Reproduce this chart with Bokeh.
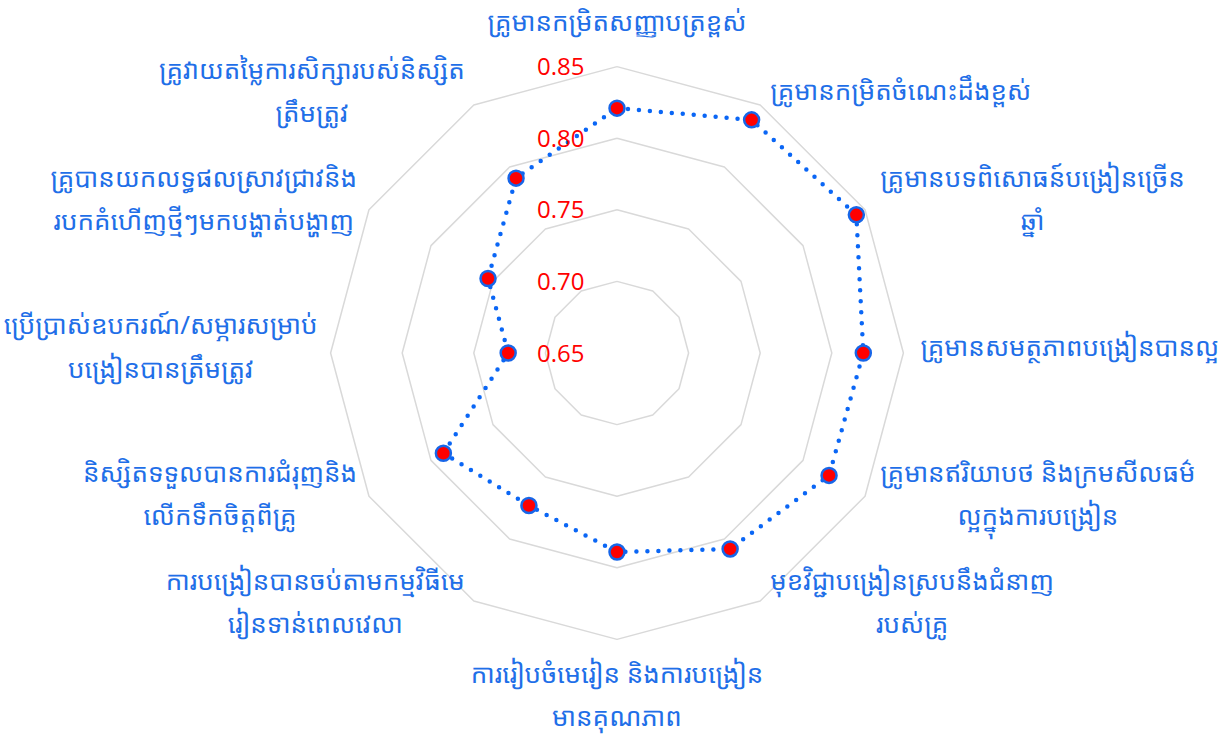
import numpy as np
from bokeh.plotting import figure
from bokeh.core.properties import value
from bokeh.embed import file_html
from bokeh.resources import INLINE

# ---- data ----
categories = [
    "គ្រូមានកម្រិតសញ្ញាបត្រខ្ពស់",
    "គ្រូមានកម្រិតចំណេះដឹងខ្ពស់",
    "គ្រូមានបទពិសោធន៍បង្រៀនច្រើន\nឆ្នាំ",
    "គ្រូមានសមត្ថភាពបង្រៀនបានល្អ",
    "គ្រូមានឥរិយាបថ និងក្រមសីលធម៌\nល្អក្នុងការបង្រៀន",
    "មុខវិជ្ជាបង្រៀនស្របនឹងជំនាញ\nរបស់គ្រូ",
    "ការរៀបចំមេរៀន និងការបង្រៀន\nមានគុណភាព",
    "ការបង្រៀនបានចប់តាមកម្មវិធីមេ\nរៀនទាន់ពេលវេលា",
    "និស្សិតទទួលបានការជំរុញនិង\nលើកទឹកចិត្តពីគ្រូ",
    "ប្រើប្រាស់ឧបករណ៍/សម្ភារសម្រាប់\nបង្រៀនបានត្រឹមត្រូវ",
    "គ្រូបានយកលទ្ធផលស្រាវជ្រាវនិង\nរបកគំហើញថ្មីៗមកបង្ហាត់បង្ហាញ",
    "គ្រូវាយតម្លៃការសិក្សារបស់និស្សិត\nត្រឹមត្រូវ",
]
scores = [0.821, 0.838, 0.843, 0.822, 0.821, 0.808, 0.789, 0.773, 0.790, 0.726, 0.754, 0.791]
ticks = [0.65, 0.70, 0.75, 0.80, 0.85]
tick_labels = ["0.65", "0.70", "0.75", "0.80", "0.85"]

# ---- layout ----
W, H = 1230, 735
PX = 1432.0            # pixels per value unit
CX, CY = 616.5, 352.5  # centre in figure pixels (from top-left)
R_MIN = ticks[0]
R_MAX = ticks[-1]

p = figure(width=W, height=H, output_backend="svg", toolbar_location=None,
           x_range=(-CX / PX, (W - CX) / PX), y_range=(-(H - CY) / PX, CY / PX),
           min_border=0)
p.axis.visible = False
p.grid.visible = False
p.outline_line_color = None
p.background_fill_color = "white"

n = len(categories)
theta = np.pi / 2 - np.arange(n) * 2 * np.pi / n
ct, st = np.cos(theta), np.sin(theta)

# grid rings
ring_xs, ring_ys = [], []
for t in ticks[1:]:
    r = t - R_MIN
    ring_xs.append(list(np.append(r * ct, r * ct[0])))
    ring_ys.append(list(np.append(r * st, r * st[0])))
p.multi_line(ring_xs, ring_ys, line_color="#d9d9d9", line_width=1.5)

# data line
rv = np.array(scores) - R_MIN
xs = rv * ct
ys = rv * st
p.line(list(np.append(xs, xs[0])), list(np.append(ys, ys[0])),
       line_color="#0a66f5", line_width=4.5, line_dash="0 11", line_cap="round")
p.scatter(xs, ys, size=15, fill_color="#ff0000", line_color="#1766e8", line_width=2.5)

# tick labels
p.text(x=[-80 / PX] * len(ticks), y=[t - R_MIN for t in ticks], text=tick_labels,
       text_align="left", text_baseline="middle", text_color="#ff0000",
       text_font=value("Open Sans"), text_font_size="24px")

# category labels
ro = R_MAX - R_MIN
lx, ly, anchors = [], [], []
for i in range(n):
    vx, vy = ro * ct[i], ro * st[i]
    if abs(ct[i]) < 0.1:
        a = "center"
        dx = 0
        dy = 46 if st[i] > 0 else -55
    elif ct[i] > 0:
        a = "center_left"
        dx = 3 + 14 * abs(ct[i])
        dy = 7 + 9 * st[i]
    else:
        a = "center_right"
        dx = -(5 + 8 * abs(ct[i]))
        dy = 7 + 9 * st[i]
    lx.append(vx + dx / PX)
    ly.append(vy + dy / PX)
    anchors.append(a)

for a in ("center_left", "center_right", "center"):
    idx = [i for i in range(n) if anchors[i] == a]
    p.text(x=[lx[i] for i in idx], y=[ly[i] for i in idx], text=[categories[i] for i in idx],
           anchor=a, text_align="center", text_baseline="middle", text_color="#1f6fe8",
           text_font=value("Noto Sans Khmer, Khmer OS, Open Sans"), text_font_size="26px",
           text_line_height=1.2)

open("out.html", "w").write(file_html(p, INLINE))
